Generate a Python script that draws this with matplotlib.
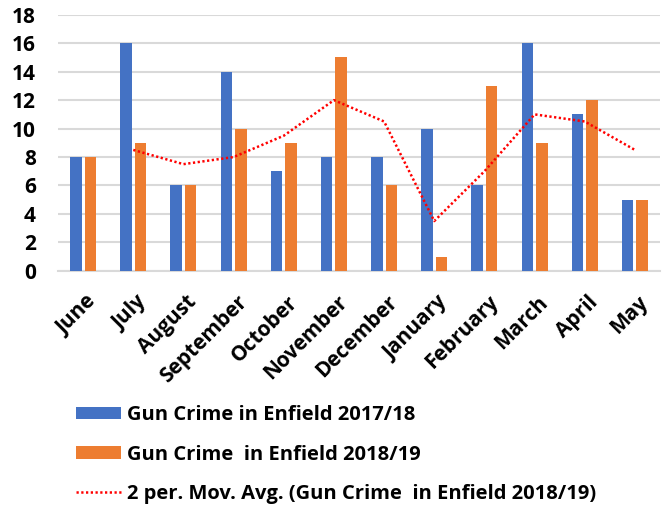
import matplotlib
matplotlib.use("Agg")
import matplotlib.pyplot as plt
import matplotlib.transforms as mtransforms
import numpy as np

months = ["June", "July", "August", "September", "October", "November",
          "December", "January", "February", "March", "April", "May"]
crime_1718 = [8, 16, 6, 14, 7, 8, 8, 10, 6, 16, 11, 5]
crime_1819 = [8, 9, 6, 10, 9, 15, 6, 1, 13, 9, 12, 5]
mov_avg = [np.nan, 8.5, 7.5, 8, 9.5, 12, 10.5, 3.5, 7, 11, 10.5, 8.5]
yticks = [0, 2, 4, 6, 8, 10, 12, 14, 16, 18]

label_a = "Gun Crime in Enfield 2017/18"
label_b = "Gun Crime  in Enfield 2018/19"
label_c = "2 per. Mov. Avg. (Gun Crime  in Enfield 2018/19)"

blue = "#4472C4"
orange = "#ED7D31"

plt.rcParams['font.family'] = ['Open Sans', 'DejaVu Sans']

fig = plt.figure(figsize=(6.63, 5.11), dpi=100)
ax = fig.add_axes([0.0875, 0.470, 0.908, 0.501])

x = np.arange(len(months))
w = 0.23
off = 0.145
b1 = ax.bar(x - off, crime_1718, width=w, color=blue, label=label_a, zorder=3)
b2 = ax.bar(x + off, crime_1819, width=w, color=orange, label=label_b, zorder=3)
l1, = ax.plot(x, mov_avg, color="#FF0000", linestyle=(0, (0.9, 1.0)), linewidth=1.8,
              label=label_c, zorder=4)

ax.set_xlim(-0.5, len(months) - 0.5)
ax.set_ylim(0, 18)
ax.set_yticks(yticks)
ax.set_yticklabels([str(t) for t in yticks], fontsize=15, fontweight='bold')
ax.set_xticks(x)
ax.set_xticklabels(months, rotation=45, ha='right', rotation_mode='anchor',
                   fontsize=15, fontweight='bold')
ax.tick_params(axis='both', length=0)
ax.tick_params(axis='y', pad=16)
ax.tick_params(axis='x', pad=15)
shift = mtransforms.ScaledTranslation(3 / 100, 0, fig.dpi_scale_trans)
for lab in ax.get_xticklabels():
    lab.set_transform(lab.get_transform() + shift)
ax.grid(axis='y', color='#D9D9D9', linewidth=1.5, zorder=0)
for s in ['top', 'right', 'left']:
    ax.spines[s].set_visible(False)
ax.spines['bottom'].set_color('#D9D9D9')
ax.spines['bottom'].set_linewidth(1.5)

fig.legend(handles=[b1, b2, l1], labels=[label_a, label_b, label_c],
           loc='upper left', bbox_to_anchor=(0.088, 0.242), frameon=False,
           prop={'size': 14.5, 'weight': 'bold'}, handlelength=2.2,
           handleheight=0.55, labelspacing=0.95, handletextpad=0.3)

fig.savefig("out.png", dpi=100)
